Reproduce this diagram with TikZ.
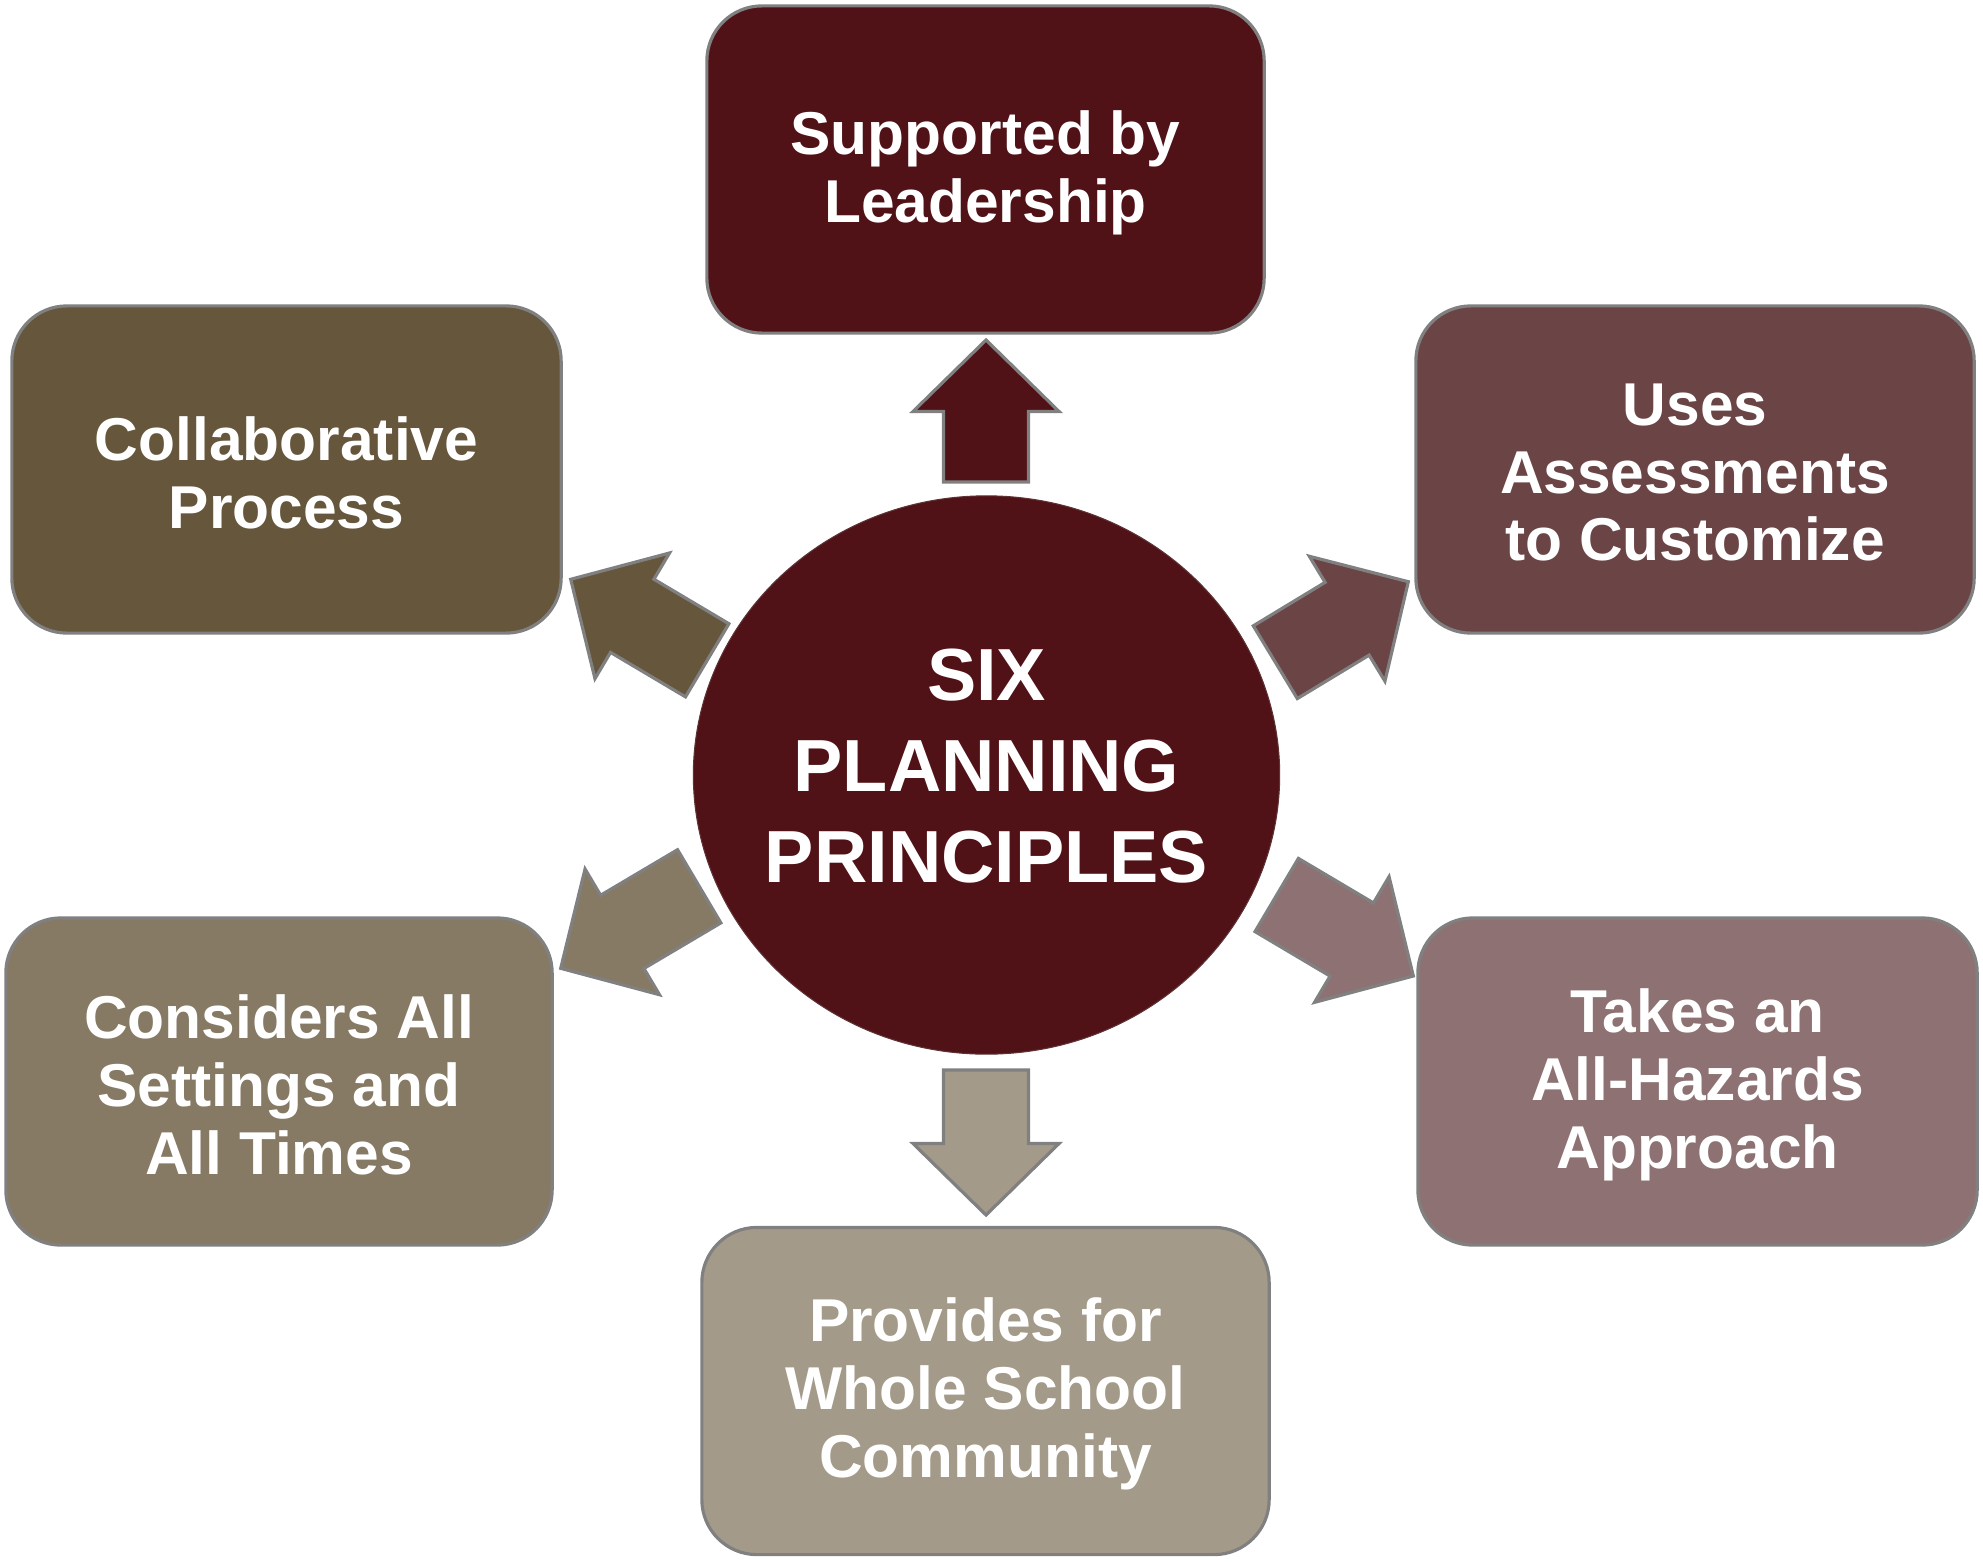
\documentclass[tikz,border=0pt]{standalone}
\usepackage{fontspec}
\setmainfont{Liberation Sans}
\usetikzlibrary{calc,shapes.geometric}
\definecolor{cMaroon}{HTML}{501216}
\definecolor{cUR}{HTML}{6B4446}
\definecolor{cLR}{HTML}{8E7273}
\definecolor{cBot}{HTML}{A39A89}
\definecolor{cLL}{HTML}{867A65}
\definecolor{cUL}{HTML}{66563C}
\definecolor{cBorder}{HTML}{808080}
\newcommand\blockarrow[3]{%
  \coordinate (#1-h) at ($(#2)!0.715cm!(#1)$);
  \draw[barrow, fill=#3]
    ($(#1)!0.425cm!90:(#2)$) --
    ($(#1-h)!0.425cm!90:(#2)$) --
    ($(#1-h)!0.73cm!90:(#2)$) --
    (#2) --
    ($(#1-h)!0.73cm!-90:(#2)$) --
    ($(#1-h)!0.425cm!-90:(#2)$) --
    ($(#1)!0.425cm!-90:(#2)$) -- cycle;
}
\begin{document}
\begin{tikzpicture}[x=0.01cm,y=-0.01cm,
  box/.style={draw=cBorder, line width=0.9pt, rounded corners=0.55cm,
    minimum height=3.27cm, inner sep=0pt},
  lbl/.style={text=white, align=center, yshift=-0.03cm,
    font=\fontsize{17.2}{19.3}\selectfont\bfseries},
  barrow/.style={draw=cBorder, line width=0.9pt, line join=miter}]
\useasboundingbox (0,0) rectangle (1983,1561);
% boxes
\node[box, fill=cMaroon, minimum width=5.57cm,
  label={[lbl]center:{Supported by\\Leadership}}] (top) at (985.5,169.5) {};
\node[box, fill=cUR, minimum width=5.58cm,
  label={[lbl]center:{Uses\\Assessments\\to Customize}}] (ur) at (1695,469.5) {};
\node[box, fill=cLR, minimum width=5.59cm,
  label={[lbl]center:{Takes an\\All-Hazards\\Approach}}] (lr) at (1697.5,1081.5) {};
\node[box, fill=cBot, minimum width=5.67cm,
  label={[lbl]center:{Provides for\\Whole School\\Community}}] (bot) at (985.5,1391) {};
\node[box, fill=cLL, minimum width=5.46cm,
  label={[lbl]center:{Considers All\\Settings and\\All Times}}] (ll) at (279,1081.5) {};
\node[box, fill=cUL, minimum width=5.49cm,
  label={[lbl]center:{Collaborative\\Process}}] (ul) at (286.5,469.5) {};
% hub
\node[ellipse, fill=cMaroon, draw=cMaroon!70!gray, line width=0.3pt, minimum width=5.86cm, minimum height=5.58cm, inner sep=0pt] (hub) at (986.5,775) {};
\node[text=white, align=center, font=\fontsize{21}{25.8}\selectfont\bfseries] (hubtext) at (986.5,766) {SIX\\PLANNING\\PRINCIPLES};
% arrow end points
\coordinate (aT) at (986,482);   \coordinate (aTe) at (986,340);
\coordinate (aB) at (986,1070);  \coordinate (aBe) at (986,1215);
\coordinate (aUR) at (1275.3,662.2); \coordinate (aURe) at (1408.3,581.7);
\coordinate (aLR) at (1276.7,895);   \coordinate (aLRe) at (1413.3,976);
\coordinate (aLL) at (699.2,886.3);  \coordinate (aLLe) at (560.7,968.3);
\coordinate (aUL) at (707.2,660.3);  \coordinate (aULe) at (570.7,579.3);
\blockarrow{aT}{aTe}{cMaroon}
\blockarrow{aB}{aBe}{cBot}
\blockarrow{aUR}{aURe}{cUR}
\blockarrow{aLR}{aLRe}{cLR}
\blockarrow{aLL}{aLLe}{cLL}
\blockarrow{aUL}{aULe}{cUL}
\end{tikzpicture}
\end{document}
